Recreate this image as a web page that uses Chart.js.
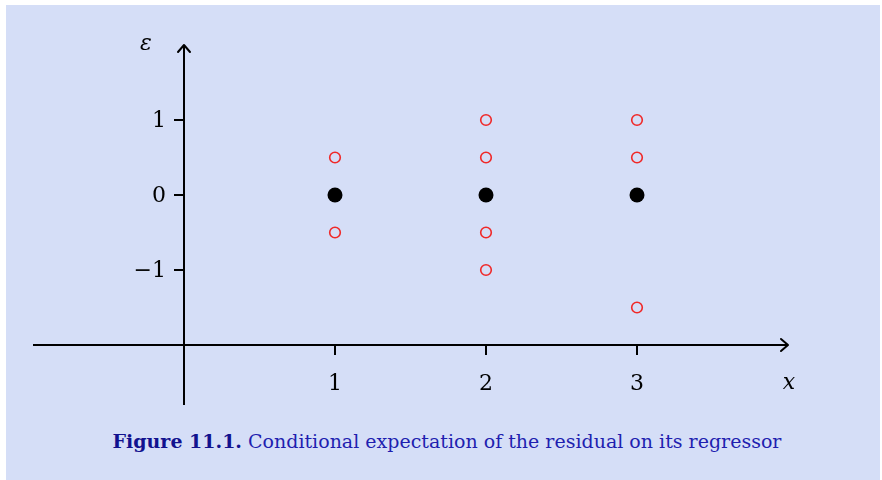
<!DOCTYPE html>
<html>
<head>
<meta charset="utf-8">
<script src="https://cdn.jsdelivr.net/npm/chart.js@4/dist/chart.umd.min.js"></script>
<style>
  body { margin: 0; background: #fff; width: 882px; height: 480px; overflow: hidden; }
  #box { position: absolute; left: 6px; top: 5px; width: 874px; height: 475px; background: #d5def7; }
  #wrap { position: absolute; left: 0; top: 0; width: 882px; height: 420px; }
  #caption { position: absolute; left: 13px; top: 430px; width: 868px; text-align: center; white-space: nowrap;
    font-family: "DejaVu Serif", serif; font-size: 19px; color: #1f1fb0; }
  #caption b { color: #12128f; }
</style>
</head>
<body>
<div id="box"></div>
<div id="wrap"><canvas id="chart"></canvas></div>
<div id="caption"><b>Figure 11.1.</b> Conditional expectation of the residual on its regressor</div>
<script>
// conditional expectation (black dots)
const meanX = [1, 2, 3];
const meanY = [0, 0, 0];

// residual values (red circles)
const residX = [1, 1, 2, 2, 2, 2, 3, 3, 3];
const residY = [0.5, -0.5, 1, 0.5, -0.5, -1, 1, 0.5, -1.5];

// axis ticks
const xTicks = [1, 2, 3];
const yTicks = [1, 0, -1];
const yTickLabels = ['1', '0', '\u22121'];

// axis extents
const xMin = -1, xMax = 4;
const yMin = -2.8, yMax = 2;
const axisY = -2; // where the x axis crosses

const axesPlugin = {
  id: 'axes',
  beforeDatasetsDraw(chart) {
    const ctx = chart.ctx;
    const sx = chart.scales.x, sy = chart.scales.y;
    const x0 = sx.getPixelForValue(0);
    const yAx = sy.getPixelForValue(axisY);
    const left = sx.getPixelForValue(xMin), right = sx.getPixelForValue(xMax);
    const top = sy.getPixelForValue(yMax), bottom = sy.getPixelForValue(yMin);

    ctx.save();
    ctx.strokeStyle = '#000';
    ctx.lineWidth = 2;
    ctx.lineCap = 'butt';
    // x axis
    ctx.beginPath();
    ctx.moveTo(left, yAx); ctx.lineTo(right - 1, yAx);
    ctx.stroke();
    // y axis
    ctx.beginPath();
    ctx.moveTo(x0, bottom); ctx.lineTo(x0, top + 1);
    ctx.stroke();

    // arrow heads
    ctx.lineWidth = 2;
    ctx.lineJoin = 'round';
    ctx.lineCap = 'round';
    ctx.beginPath();
    ctx.moveTo(right - 7, yAx - 6); ctx.lineTo(right, yAx); ctx.lineTo(right - 7, yAx + 6);
    ctx.stroke();
    ctx.beginPath();
    ctx.moveTo(x0 - 6, top + 7); ctx.lineTo(x0, top); ctx.lineTo(x0 + 6, top + 7);
    ctx.stroke();

    // ticks
    ctx.lineWidth = 2;
    ctx.lineCap = 'butt';
    ctx.fillStyle = '#000';
    ctx.font = '22px "DejaVu Serif", serif';
    xTicks.forEach(v => {
      const px = sx.getPixelForValue(v);
      ctx.beginPath(); ctx.moveTo(px, yAx); ctx.lineTo(px, yAx + 10); ctx.stroke();
      ctx.textAlign = 'center'; ctx.textBaseline = 'middle';
      ctx.fillText(String(v), px, yAx + 39);
    });
    yTicks.forEach((v, i) => {
      const py = sy.getPixelForValue(v);
      ctx.beginPath(); ctx.moveTo(x0 - 10, py); ctx.lineTo(x0, py); ctx.stroke();
      ctx.textAlign = 'right'; ctx.textBaseline = 'middle';
      ctx.fillText(yTickLabels[i], x0 - 18, py + 1);
    });

    // axis names
    ctx.font = 'italic 22px "DejaVu Serif", serif';
    ctx.textAlign = 'center'; ctx.textBaseline = 'middle';
    ctx.fillText('\u03b5', x0 - 38, top - 1);
    ctx.fillText('x', right + 1, yAx + 38);
    ctx.restore();
  }
};

new Chart(document.getElementById('chart'), {
  type: 'scatter',
  data: {
    datasets: [{
      label: 'residual',
      data: residX.map((x, i) => ({ x: x, y: residY[i] })),
      pointRadius: 5.3,
      pointBorderWidth: 1.6,
      pointBorderColor: '#f02828',
      pointBackgroundColor: 'rgba(0,0,0,0)'
    }, {
      label: 'mean',
      data: meanX.map((x, i) => ({ x: x, y: meanY[i] })),
      pointRadius: 7.5,
      pointBorderWidth: 0,
      pointBackgroundColor: '#000'
    }]
  },
  options: {
    responsive: true,
    maintainAspectRatio: false,
    animation: false,
    events: [],
    layout: { autoPadding: false, padding: { left: 33, right: 94, top: 45, bottom: 15 } },
    plugins: { legend: { display: false }, tooltip: { enabled: false } },
    scales: {
      x: { type: 'linear', min: xMin, max: xMax, display: false },
      y: { type: 'linear', min: yMin, max: yMax, display: false }
    }
  },
  plugins: [axesPlugin]
});
</script>
</body>
</html>
